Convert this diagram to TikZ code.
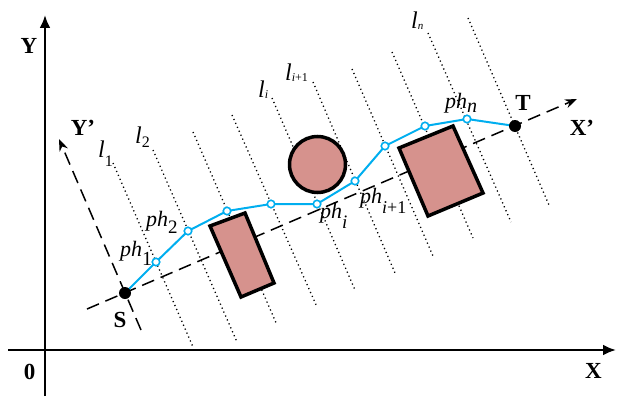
\documentclass[tikz,border=0pt]{standalone}
\usepackage{fontspec}
\setmainfont{Liberation Serif}
\usetikzlibrary{arrows.meta}
\definecolor{pathcyan}{RGB}{0,174,239}
\definecolor{obst}{RGB}{214,146,141}
\newcommand{\lsub}[3]{\textit{l}\raisebox{#1}{\fontsize{#2}{#2}\selectfont #3}}
\newcommand{\phsub}[3]{\textit{ph}\raisebox{#1}{\fontsize{#2}{#2}\selectfont #3}}
\begin{document}
\begin{tikzpicture}[x=1pt,y=-1pt,
  axis/.style={line width=2.4pt,-{Latex[length=13pt,width=11pt]}},
  daxis/.style={line width=1.5pt,dash pattern=on 13pt off 7pt,-{Stealth[length=12pt,width=9pt]}},
  dotline/.style={line width=1.3pt,dash pattern=on 1.2pt off 3.1pt},
  obstacle/.style={draw=black,line width=3.5pt,fill=obst,line join=miter},
  route/.style={pathcyan,line width=2pt},
  wp/.style={circle,draw=pathcyan,fill=white,line width=1.6pt,inner sep=0pt,minimum size=7.5pt},
  endpt/.style={circle,fill=black,inner sep=0pt,minimum size=12pt},
  blab/.style={font=\fontsize{23}{23}\selectfont\bfseries,inner sep=0pt},
  llab/.style={font=\fontsize{24}{24}\selectfont,inner sep=0pt,anchor=base west},
  plab/.style={font=\fontsize{22}{22}\selectfont,inner sep=0pt,anchor=base west}]
\useasboundingbox (0,0) rectangle (617,396);
% dotted lines
\foreach \ax/\ay/\bx/\by in {113/163/193/347,153/150/237/342,193/132/277/325,232/115/317/307,272/98/355/290,313/82/395/273,352/69/433/256,392/52/473/238,428/33/511/222,468/18/549/205}
  \draw[dotline] (\ax,\ay) -- (\bx,\by);
% main axes
\coordinate (ybot) at (45,396);
\coordinate (ytop) at (45,15);
\coordinate (xleft) at (8,350);
\coordinate (xright) at (616,350);
\draw[axis] (ybot) -- (ytop);
\draw[axis] (xleft) -- (xright);
% rotated axes
\coordinate (xpl) at (87,309);
\coordinate (xpr) at (577,99);
\coordinate (ypb) at (141,330);
\coordinate (ypt) at (59,139);
\draw[daxis] (xpl) -- (xpr);
\draw[daxis] (ypb) -- (ypt);
% obstacles
\draw[obstacle] (210,226) -- (245,213) -- (274,283) -- (241,297) -- cycle;
\draw[obstacle] (399,148) -- (453,126) -- (483,193) -- (428,216) -- cycle;
\draw[obstacle] (317.5,164.5) circle[radius=28];
% route
\coordinate (cS) at (125,293);
\coordinate (cT) at (515,126);
\coordinate (c1) at (156,262);
\coordinate (c2) at (188,231);
\coordinate (c3) at (227,211);
\coordinate (c4) at (271,204);
\coordinate (c5) at (317,204);
\coordinate (c6) at (355,181);
\coordinate (c7) at (385,146);
\coordinate (c8) at (425,126);
\coordinate (c9) at (467,119);
\draw[route] (cS) -- (c1) -- (c2) -- (c3) -- (c4) -- (c5) -- (c6) -- (c7) -- (c8) -- (c9) -- (cT);
\node[wp] (p1) at (c1) {};
\node[wp] (p2) at (c2) {};
\node[wp] (p3) at (c3) {};
\node[wp] (p4) at (c4) {};
\node[wp] (p5) at (c5) {};
\node[wp] (p6) at (c6) {};
\node[wp] (p7) at (c7) {};
\node[wp] (p8) at (c8) {};
\node[wp] (p9) at (c9) {};
\node[endpt] (S) at (cS) {};
\node[endpt] (T) at (cT) {};
% labels
\node[blab] (Ylab) at (29,46) {Y};
\node[blab] (Olab) at (29.5,371.5) {0};
\node[blab] (Xlab) at (593.5,370.5) {X};
\node[blab] (Slab) at (120,319.5) {S};
\node[blab] (Tlab) at (523,102.5) {T};
\node[blab] (Xplab) at (582,128) {X’};
\node[blab] (Yplab) at (83,128) {Y’};
\node[llab] (l1) at (98,157) {\lsub{-9pt}{16}{1}};
\node[llab] (l2) at (135,143) {\lsub{-4pt}{16}{2}};
\node[llab] (li) at (258,97) {\lsub{-1pt}{12}{\textit{i}}};
\node[llab] (li1) at (285,80) {\lsub{-1pt}{12}{\textit{i}+1}};
\node[llab] (ln) at (411,29) {\lsub{-1pt}{11}{\textit{n}}};
\node[plab] (ph1) at (120,256) {\phsub{-9pt}{20}{1}};
\node[plab] (ph2) at (146,226) {\phsub{-7pt}{19}{2}};
\node[plab] (phi) at (320,218) {\phsub{-10pt}{19}{\textit{i}}};
\node[plab] (phi1) at (360,203) {\phsub{-10pt}{18}{\textit{i}+1}};
\node[plab] (phn) at (445,108) {\phsub{-4pt}{20}{\textit{n}}};
\end{tikzpicture}
\end{document}
